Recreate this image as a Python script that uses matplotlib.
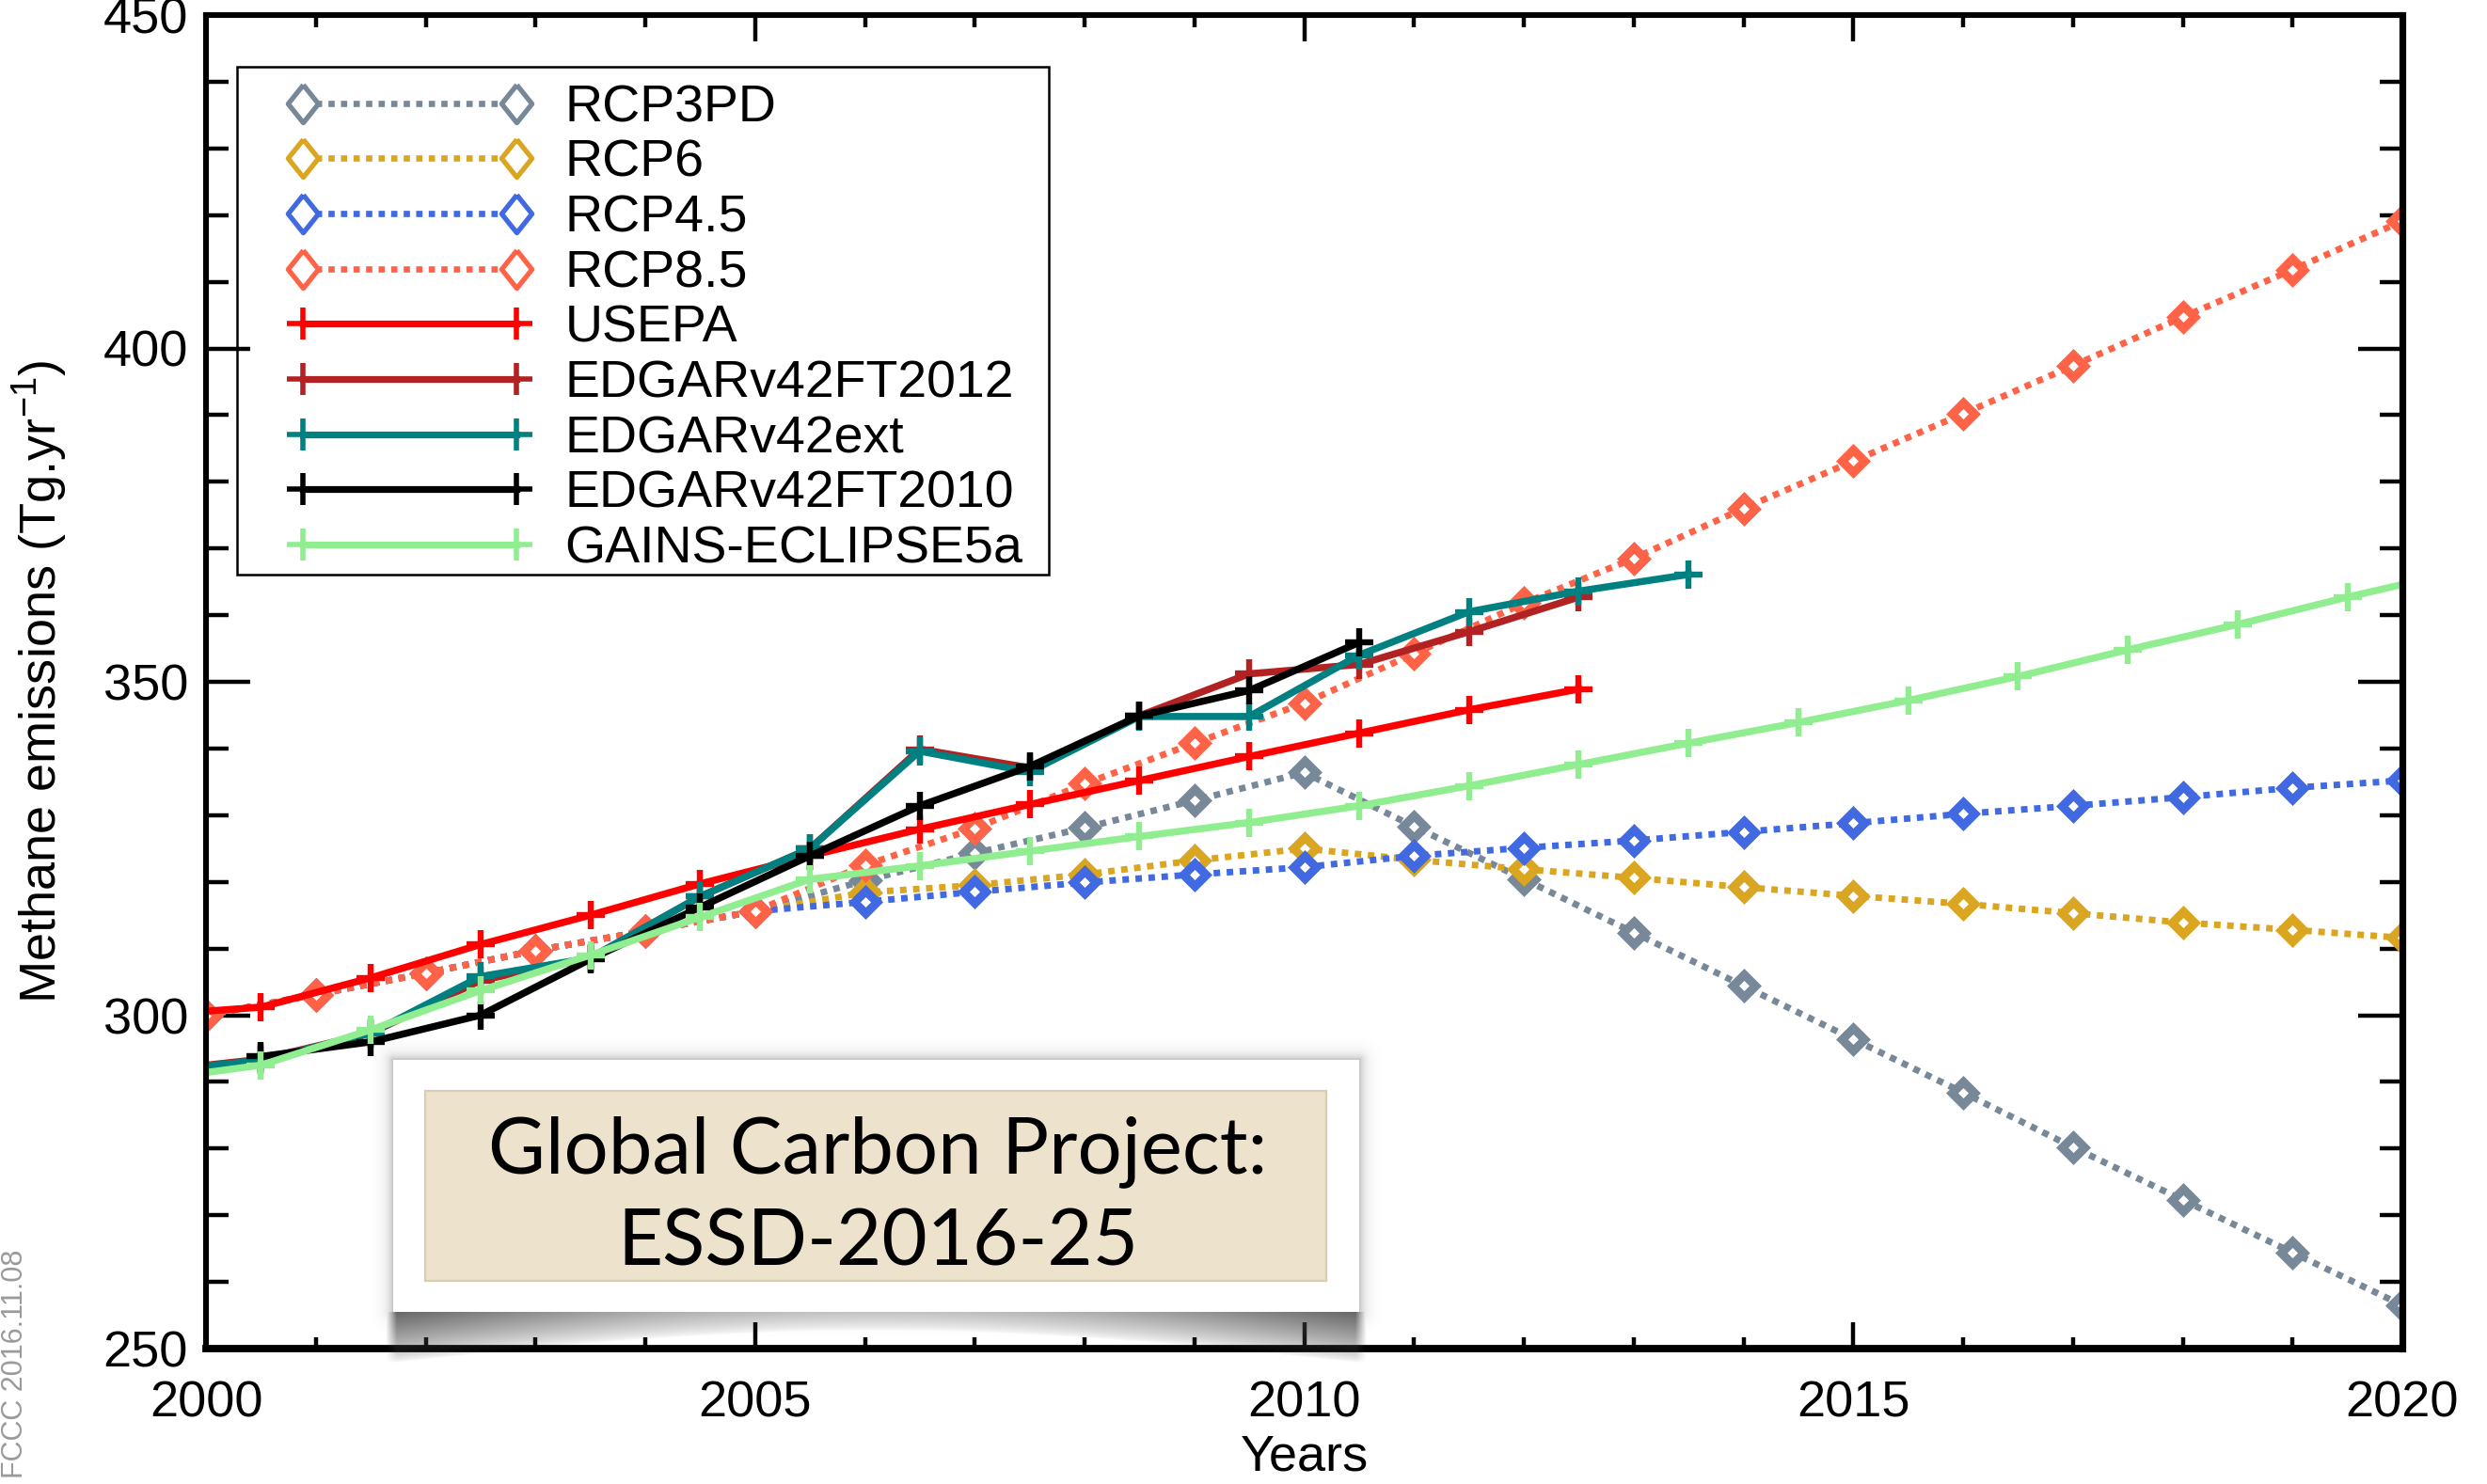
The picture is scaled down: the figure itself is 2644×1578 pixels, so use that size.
import numpy as np
import matplotlib
matplotlib.use("Agg")
import matplotlib.pyplot as plt
from matplotlib.lines import Line2D
from matplotlib.patches import Rectangle
from matplotlib.ticker import MultipleLocator

# ---------------- data ----------------
rcp_years = list(range(2000, 2021))
rcp3pd = [300.0, 303.1, 306.3, 309.7, 312.6, 315.6, 320.2, 324.3, 328.1, 332.2, 336.4,
          328.3, 320.4, 312.4, 304.4, 296.4, 288.4, 280.2, 272.3, 264.4, 256.5]
rcp6 = [300.0, 303.1, 306.3, 309.7, 312.6, 315.6, 318.4, 319.5, 321.1, 323.2, 325.0,
        323.3, 321.9, 320.6, 319.2, 317.9, 316.7, 315.3, 313.9, 312.8, 311.6]
rcp45 = [300.0, 303.1, 306.3, 309.7, 312.6, 315.6, 317.0, 318.5, 319.9, 321.1, 322.2,
         323.9, 325.1, 326.2, 327.5, 328.8, 330.2, 331.4, 332.7, 334.1, 335.2]
rcp85 = [300.0, 303.1, 306.3, 309.7, 312.6, 315.6, 322.5, 328.0, 334.7, 340.8, 346.8,
         354.2, 361.8, 368.5, 376.0, 383.1, 390.2, 397.4, 404.7, 411.8, 419.1]

usepa_years = [1999.5 + i for i in range(14)]
usepa = [300.0, 301.2, 305.6, 310.6, 315.0, 319.7, 323.9, 327.9, 331.6, 335.2,
         338.8, 342.3, 345.8, 348.9]

edgar2012_years = [1999.5 + i for i in range(14)]
edgar2012 = [291.6, 293.4, 297.3, 305.2, 308.6, 317.8, 325.0, 339.9, 337.1, 344.9,
             351.2, 352.6, 357.5, 362.7]

edgarext_years = [1999.5 + i for i in range(15)]
edgarext = [291.6, 293.2, 297.3, 305.8, 308.6, 317.8, 325.0, 339.6, 336.5, 344.8,
            344.8, 354.0, 360.5, 363.6, 366.1]

edgar2010_years = [2000.5 + i for i in range(11)]
edgar2010 = [293.8, 296.0, 300.0, 308.4, 316.2, 323.9, 331.4, 337.3, 344.9, 348.7, 355.9]

gains_years = [1999.5 + i for i in range(22)]
gains = [290.3, 292.5, 297.8, 303.7, 309.0, 314.7, 320.4, 322.4, 324.6, 326.8, 328.9,
         331.4, 334.4, 337.6, 340.8, 343.9, 347.2, 350.8, 354.8, 358.6, 362.7, 366.5]

labels = ["RCP3PD", "RCP6", "RCP4.5", "RCP8.5", "USEPA", "EDGARv42FT2012",
          "EDGARv42ext", "EDGARv42FT2010", "GAINS-ECLIPSE5a"]

# ---------------- style ----------------
plt.rcParams["font.family"] = ["Liberation Sans", "DejaVu Sans"]
plt.rcParams["mathtext.default"] = "regular"

W, H = 2644, 1578
fig = plt.figure(figsize=(W / 200, H / 200), dpi=200)
AX_L, AX_R, AX_T, AX_B = 219, 2554, 16, 1434
ax = fig.add_axes([AX_L / W, 1 - AX_B / H, (AX_R - AX_L) / W, (AX_B - AX_T) / H])

dot = (0, (1.0, 1.0))
c3, c6, c45, c85 = "#778899", "#DAA520", "#4169E1", "#FF6347"
rcp_kw = dict(lw=2.5, ls=dot, marker="D", ms=6.0, mfc="white", mew=3.3)
ax.plot(rcp_years, rcp3pd, color=c3, **rcp_kw)
ax.plot(rcp_years, rcp6, color=c6, **rcp_kw)
ax.plot(rcp_years, rcp45, color=c45, **rcp_kw)
ax.plot(rcp_years, rcp85, color=c85, **rcp_kw)

sol_kw = dict(lw=2.7, marker="+", ms=11, mew=2.3)
ax.plot(usepa_years, usepa, color="#FF0000", **sol_kw)
ax.plot(edgar2012_years, edgar2012, color="#B22222", **sol_kw)
ax.plot(edgarext_years, edgarext, color="#008080", **sol_kw)
ax.plot(edgar2010_years, edgar2010, color="black", **sol_kw)
ax.plot(gains_years, gains, color="#90EE90", **sol_kw)

ax.set_xlim(2000, 2020)
ax.set_ylim(250, 450)
ax.xaxis.set_major_locator(MultipleLocator(5))
ax.xaxis.set_minor_locator(MultipleLocator(1))
ax.yaxis.set_major_locator(MultipleLocator(50))
ax.yaxis.set_minor_locator(MultipleLocator(10))
ax.tick_params(axis="x", which="major", direction="in", length=10, width=1.6,
               top=True, bottom=True, labelsize=19.5, pad=12.0)
ax.tick_params(axis="x", which="minor", direction="in", length=4.5, width=1.6,
               top=True, bottom=True)
ax.tick_params(axis="y", which="major", direction="in", length=17, width=1.6,
               left=True, right=True, labelsize=19.5, pad=6.8)
ax.tick_params(axis="y", which="minor", direction="in", length=8.5, width=1.6,
               left=True, right=True)
for s in ax.spines.values():
    s.set_linewidth(2.2)
ax.spines["bottom"].set_linewidth(2.8)
ax.spines["right"].set_linewidth(2.6)

ax.set_ylabel("Methane emissions (Tg.yr$^{-1}$)", fontsize=19.5)
ax.yaxis.set_label_coords(-0.062, 0.5)
ax.set_xlabel("Years", fontsize=19.5)
ax.xaxis.set_label_coords(0.5, -0.064)

# ---------------- legend ----------------
dia = [(0, 1), (0.8, 0), (0, -1), (-0.8, 0), (0, 1)]
handles = []
for c in (c3, c6, c45, c85):
    handles.append(Line2D([], [], color=c, lw=2.4, ls=dot, marker=dia, ms=14.5,
                          mfc="white", mew=1.9))
for c in ("#FF0000", "#B22222", "#008080", "black", "#90EE90"):
    handles.append(Line2D([], [], color=c, lw=2.6, marker="+", ms=12, mew=2.0))
leg = ax.legend(handles, labels, loc="upper left",
                bbox_to_anchor=((305 - AX_L) / (AX_R - AX_L), 1 - (89 - AX_T) / (AX_B - AX_T)),
                borderaxespad=0, borderpad=0, frameon=False, numpoints=2,
                handlelength=4.7, handletextpad=0.62, labelspacing=0.12,
                fontsize=20)
frame = Rectangle((252 / W, 1 - 611 / H), (1115 - 252) / W, (611 - 71) / H,
                  transform=fig.transFigure, fill=False, ec="black", lw=0.9, zorder=4)
fig.patches.append(frame)

# ---------------- label box with shadow ----------------
OX0, OX1, OY0, OY1 = 395, 1470, 1105, 1460
ov = fig.add_axes([OX0 / W, 1 - OY1 / H, (OX1 - OX0) / W, (OY1 - OY0) / H])
ov.set_xlim(OX0, OX1)
ov.set_ylim(OY1, OY0)
ov.axis("off")
ov.set_zorder(5)
ov.patch.set_alpha(0)

x0, x1, y0, y1 = 418, 1445, 1127, 1395
xs = np.arange(OX0, OX1) + 0.5
ys = np.arange(OY0, OY1) + 0.5
XX, YY = np.meshgrid(xs, ys)
dx = np.maximum(np.maximum(x0 - XX, XX - x1), 0)
dy = np.maximum(np.maximum(y0 - YY, YY - y1), 0)
dd = np.hypot(dx, dy)
soft = np.where(dd > 0, 0.32 * np.exp(-dd / 6.0), 0)
t = np.clip((XX - x0) / (x1 - x0), 0, 1)
depth = 54 - 34 * np.sin(np.pi * t)
below = YY - y1
curve = 0.8 * (1 - 0.6 * np.sin(np.pi * t)) * np.clip(1 - below / depth, 0, 1) ** 0.7
curve = np.where(below > 0, curve, 0)
curve *= np.clip((XX - (x0 - 8)) / 12, 0, 1) * np.clip(((x1 + 8) - XX) / 12, 0, 1)
alpha = np.maximum(soft, curve)
rgba = np.zeros(XX.shape + (4,))
rgba[..., :3] = 0.25
rgba[..., 3] = alpha
ov.imshow(rgba, extent=(OX0, OX1, OY1, OY0), origin="upper",
          interpolation="bilinear", aspect="auto")
ov.set_xlim(OX0, OX1)
ov.set_ylim(OY1, OY0)
ov.add_patch(Rectangle((x0, y0), x1 - x0, y1 - y0, fc="white", ec="none"))
ov.add_patch(Rectangle((452, 1160), 958, 202, fc="#EDE3CD", ec="#D9CDB5", lw=0.8))
ov.text(933, 1247, "Global Carbon Project:", ha="center", va="baseline",
        fontsize=30, family="Lato", color="black")
ov.text(933, 1345, "ESSD-2016-25", ha="center", va="baseline",
        fontsize=30, family="Lato", color="black")

# watermark
fig.text(1 / W, 0.004, "FCCC 2016.11.08", rotation=90, rotation_mode="anchor",
         ha="left", va="top", fontsize=11, color="#9a9a9a")

fig.savefig("out.png", dpi=200)
